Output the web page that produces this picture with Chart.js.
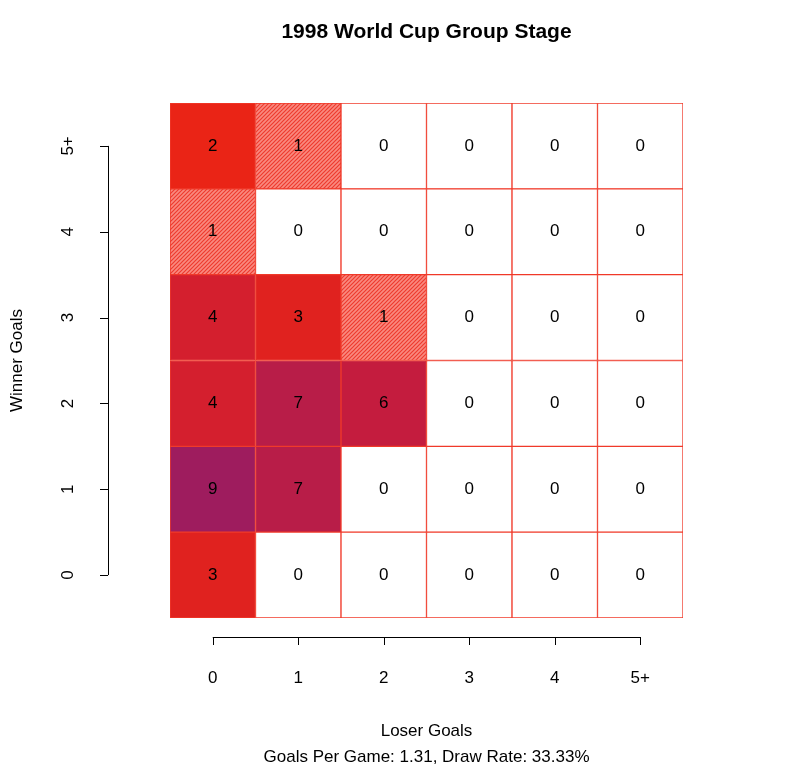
<!DOCTYPE html>
<html><head><meta charset="utf-8">
<script src="https://cdn.jsdelivr.net/npm/chart.js@4.4.0/dist/chart.umd.min.js"></script>
<style>html,body{margin:0;padding:0;background:#fff}#w{width:800px;height:774px}</style>
</head><body><div id="w"><canvas id="c"></canvas></div>
<script>
const loserLabels = ['0','1','2','3','4','5+'];
const winnerLabels = ['0','1','2','3','4','5+'];
const w0 = [3,0,0,0,0,0];
const w1 = [9,7,0,0,0,0];
const w2 = [4,7,6,0,0,0];
const w3 = [4,3,1,0,0,0];
const w4 = [1,0,0,0,0,0];
const w5 = [2,1,0,0,0,0];
const rows = [w0,w1,w2,w3,w4,w5];
const countColors = {2:'#ea2416',3:'#e0221f',4:'#d41f2e',6:'#c41c3e',7:'#b81d48',9:'#9e1c5e'};

function hatch(){
  const p=document.createElement('canvas');p.width=4;p.height=4;
  const g=p.getContext('2d');g.fillStyle='#f98a80';g.fillRect(0,0,4,4);
  g.strokeStyle='#ee3b2e';g.lineWidth=1.2;
  g.beginPath();g.moveTo(0,4);g.lineTo(4,0);g.moveTo(-1,1);g.lineTo(1,-1);g.moveTo(3,5);g.lineTo(5,3);g.stroke();
  return g.createPattern(p,'repeat');
}
const hp = hatch();
function col(v){ if(v===0) return '#ffffff'; if(v===1) return hp; return countColors[v]||'#c41c3e'; }

const datasets = rows.map((r,i)=>({label:winnerLabels[i],data:r.map(()=>1),counts:r,
  backgroundColor:r.map(col),borderColor:'#f03a2a',borderWidth:1,borderSkipped:false,
  barPercentage:1,categoryPercentage:1}));

const F='"Liberation Sans", Arial, sans-serif';
const deco={id:'deco',afterDatasetsDraw(ch){
  const c=ch.ctx,x=ch.scales.x,y=ch.scales.y,a=ch.chartArea;
  c.save();c.fillStyle='#000';c.textAlign='center';c.textBaseline='middle';
  c.font='17px '+F;
  rows.forEach((r,i)=>r.forEach((v,j)=>{c.fillText(String(v),x.getPixelForValue(j),y.getPixelForValue(i+0.5));}));
  // title
  c.font='bold 21px '+F;c.fillText('1998 World Cup Group Stage',(a.left+a.right)/2,32);
  c.strokeStyle='#000';c.lineWidth=1;c.font='17px '+F;
  // bottom axis
  const by=637,x0=x.getPixelForValue(0),x5=x.getPixelForValue(5);
  c.beginPath();c.moveTo(x0,by+0.5);c.lineTo(x5,by+0.5);
  loserLabels.forEach((l,j)=>{const px=Math.round(x.getPixelForValue(j))+0.5;c.moveTo(px,by);c.lineTo(px,by+8);});
  // left axis
  const lx=108,y0=y.getPixelForValue(0.5),y5=y.getPixelForValue(5.5);
  c.moveTo(lx+0.5,y0);c.lineTo(lx+0.5,y5);
  winnerLabels.forEach((l,i)=>{const py=Math.round(y.getPixelForValue(i+0.5))+0.5;c.moveTo(lx,py);c.lineTo(lx-8,py);});
  c.stroke();
  loserLabels.forEach((l,j)=>c.fillText(l,x.getPixelForValue(j),678));
  winnerLabels.forEach((l,i)=>{c.save();c.translate(68,y.getPixelForValue(i+0.5));c.rotate(-Math.PI/2);c.fillText(l,0,0);c.restore();});
  c.fillText('Loser Goals',(a.left+a.right)/2,731);
  c.fillText('Goals Per Game: 1.31, Draw Rate: 33.33%',(a.left+a.right)/2,757);
  c.save();c.translate(17,(a.top+a.bottom)/2);c.rotate(-Math.PI/2);c.fillText('Winner Goals',0,0);c.restore();
  c.restore();
}};

new Chart(document.getElementById('c'),{type:'bar',
  data:{labels:loserLabels,datasets},
  options:{responsive:true,maintainAspectRatio:false,animation:false,
    layout:{padding:{left:170,right:117,top:103,bottom:156}},
    plugins:{legend:{display:false},tooltip:{enabled:false}},
    scales:{x:{stacked:true,display:false,offset:true},y:{stacked:true,display:false,min:0,max:6}}},
  plugins:[deco]});
</script></body></html>
